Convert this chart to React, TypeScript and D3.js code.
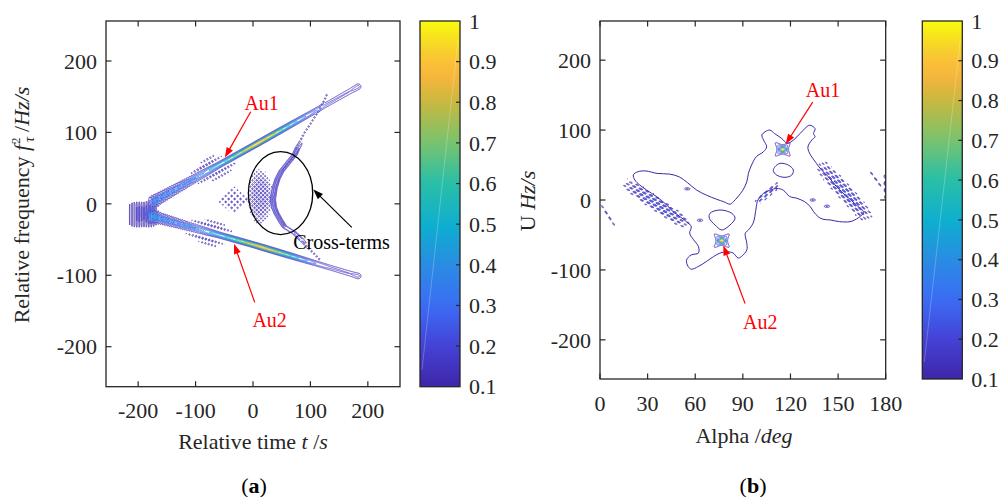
import React, { useMemo } from "react";
import * as d3 from "d3";

// ================= Panel (a): time–frequency distribution =================
const timeTicks = [-200, -100, 0, 100, 200];
const freqTicks = [-200, -100, 0, 100, 200];
const colorbarTicks = [0.1, 0.2, 0.3, 0.4, 0.5, 0.6, 0.7, 0.8, 0.9, 1];
const contourLevels = [0.1, 0.2, 0.3, 0.4, 0.5, 0.6, 0.7, 0.8, 0.9];

// ridge centre lines (t [s], f [Hz/s]) and amplitude along t
const au1Ridge = [[-172, 4], [0, 81], [183, 164]];
const au1Amplitude = [[-172, 0.45], [-130, 0.42], [-90, 0.45], [-50, 0.6], [-20, 0.8], [5, 1.0], [35, 0.85], [70, 0.55], [100, 0.35], [125, 0.22], [170, 0.2], [183, 0.24]];
const au2Ridge = [[-172, -18], [0, -57], [183, -101]];
const au2Amplitude = [[-172, 0.45], [-130, 0.42], [-90, 0.45], [-50, 0.6], [-15, 0.8], [15, 0.97], [45, 0.8], [80, 0.5], [110, 0.3], [135, 0.22], [170, 0.2], [183, 0.24]];
// origin block of the two chirps
const originT = [-218, -168];
const originF = [-34, 4];
// sidelobe dot rows: [ridge index, t start, t end, f offset, amplitude]
const sidelobeRows = [
  [0, -112, -50, 10, 0.26],
  [0, -95, -62, 17, 0.2],
  [0, -100, -22, -10, 0.26],
  [0, -80, -30, -17, 0.2],
  [1, -112, -28, 10, 0.26],
  [1, -90, -40, 16, 0.2],
  [1, -122, -45, -11, 0.26],
  [1, -100, -55, -17, 0.2],
];
// cross-term arc (t, f) and its amplitude
const crossArc = [[128, 152], [122, 141], [110, 125], [100, 112], [90, 100], [82, 88], [75, 78], [70, 69], [58, 57], [47, 46], [40, 35], [35, 22], [32, 6], [34, -5], [38, -13], [45, -23], [52, -32], [62, -37], [70, -41], [80, -49], [90, -57], [99, -64], [108, -71], [116, -78]];
const crossArcAmplitude = [0.2, 0.2, 0.2, 0.2, 0.2, 0.21, 0.23, 0.24, 0.24, 0.24, 0.24, 0.24, 0.24, 0.24, 0.24, 0.24, 0.24, 0.24, 0.24, 0.23, 0.21, 0.2, 0.2, 0.2];
const crossHatchCentre = [12, 10];
const crossHatchRadii = [22, 40];
const autoDotsCentre = [-34, 5];
const autoDotsRadii = [31, 21];

const labelsA = [
  { text: "Au1", at: [15, 131], from: [-4, 129], to: [-49, 65] },
  { text: "Au2", at: [29, -173], from: [3, -138], to: [-33, -56] },
];
const crossRingCentre = [48, 15];
const crossRingRadii = [56, 58];
const crossArrowFrom = [172, -33];
const crossArrowTo = [105, 20];
const crossLabelAt = [70, -63];

// ================= Panel (b): alpha–U map =================
const alphaTicks = [0, 30, 60, 90, 120, 150, 180];
const uTicks = [-200, -100, 0, 100, 200];
const outlineB = [
  [21, 36], [24, 40.5], [29, 41.5], [36, 38], [44, 37], [50, 33], [55, 25], [61, 14], [67, 7], [73.5, 1], [78, -2.5], [82, -6], [84, -2.5], [87, 5], [90, 14], [92.5, 26], [93.5, 38], [95.5, 50], [98.5, 62], [103, 69], [105, 76], [103, 86], [102, 93], [104, 97.5], [107, 100], [110, 95], [114.5, 88], [118, 81], [122, 86], [126, 95], [129, 102], [132, 107], [135.5, 102], [134.5, 95], [135.5, 90.5], [133.5, 86], [131, 76], [132, 67], [136.5, 52], [139.5, 43], [144, 33], [149, 19], [155.5, 5], [161.5, -7], [166, -17], [165, -21.5], [160.5, -28.5], [157.5, -31], [151, -31], [145, -28.5], [140.5, -27.5], [137.5, -24], [134.5, -16.5], [132.5, -9.5], [129, -2.5], [124, 2.5], [119.5, 5], [115.5, 14], [111.5, 16.5], [107, 14], [103, 9.5], [99.5, 0], [98.5, -9.5], [97.5, -24], [96.5, -33], [93.5, -43], [91.5, -47.5], [92.5, -62], [92.5, -71.5], [89, -81], [87, -83], [84, -76], [80, -74], [75.5, -76], [71.5, -81], [67, -88], [62, -95], [57.5, -99], [55.5, -95], [54.5, -86], [57.5, -78.5], [62, -76], [62, -66.5], [59, -57], [56.5, -47.5], [57.5, -38], [54.5, -31], [50.5, -24], [46, -16.5], [42, -7], [35.5, 5], [29.5, 14], [25, 21.5], [22, 28.5],
];
const lowerHoleB = [[69.3, -19], [75.6, -14.3], [83, -19], [85.1, -26.1], [81.9, -35.7], [76.7, -42.9], [72.5, -35.7], [68.9, -26.1]];
const upperHoleB = [[110.3, 47.6], [113.4, 52.4], [118.6, 50], [121.8, 42.9], [120.8, 35.7], [116.6, 32.4], [111.3, 35.7], [109.2, 41.9]];
const peaksB = [[115.1, 72.4], [76.7, -58.1]];
// speckle bands: [alpha0, U0, alpha1, U1, half width px, dash angle deg, amplitude]
const speckleBandsB = [
  [15, 26, 56, -37, 6.5, 20, 0.42],
  [138, 52, 170, -28, 7.5, 35, 0.42],
  [99, -3, 112, 22, 3.5, -40, 0.38],
  [0.5, -6, 9.5, -38, 1.5, 57, 0.3],
  [169, 43, 178, 15, 1.5, 54, 0.3],
  [179.3, 38, 179.6, 2, 1.5, 89, 0.3],
];
const speckleBlobsB = [[55, 16], [63, -29], [134, 0], [143, -9]];
const labelsB = [
  { text: "Au1", at: [140.5, 148], from: [134, 140], to: [117, 80] },
  { text: "Au2", at: [101, -185], from: [91.4, -148], to: [77.7, -65] },
];

// ================= layout / styles =================
const DARK = "#262626";
const FONT = "'Liberation Serif', 'Times New Roman', serif";
const boxA = { l: 106, r: 400, t: 21, b: 386.7 };
const cbA = { l: 420, r: 460, t: 21, b: 386.7 };
const boxB = { l: 600, r: 885.7, t: 21, b: 379 };
const cbB = { l: 922.3, r: 962.3, t: 21, b: 379 };

const xA = d3.scaleLinear().domain([-256, 256]).range([boxA.l, boxA.r]);
const yA = d3.scaleLinear().domain([-256, 256]).range([boxA.b, boxA.t]);
const xB = d3.scaleLinear().domain([0, 180]).range([boxB.l, boxB.r]);
const yB = d3.scaleLinear().domain([-256, 256]).range([boxB.b, boxB.t]);
const cScaleA = d3.scaleLinear().domain([0.1, 1]).range([cbA.b, cbA.t]);
const cScaleB = d3.scaleLinear().domain([0.1, 1]).range([cbB.b, cbB.t]);

const PARULA: [number, string][] = [
  [0.0, "#3e26a8"], [0.11, "#4541d6"], [0.22, "#3b6cf4"], [0.33, "#2a8be3"], [0.44, "#0eaed0"],
  [0.56, "#2bbfa6"], [0.67, "#7bc36c"], [0.78, "#c9b83e"], [0.83, "#eeb53c"], [0.87, "#fcba3c"],
  [0.92, "#f6d02c"], [1.0, "#f9fb0e"],
];
const parula = d3.scaleLinear<string>().domain(PARULA.map((d) => d[0])).range(PARULA.map((d) => d[1])).interpolate(d3.interpolateRgb).clamp(true);
const levelColor = (v: number) => parula((v - 0.1) / 0.9);
const TAU = Math.PI * 2;

// ================= field helpers =================
function makeGrid(x0: number, y0: number, x1: number, y1: number, step: number) {
  const nx = Math.ceil((x1 - x0) / step), ny = Math.ceil((y1 - y0) / step);
  return { x0, y0, step, nx, ny, v: new Float64Array(nx * ny) };
}
function paintBox(g: any, bx0: number, by0: number, bx1: number, by1: number, fn: (px: number, py: number) => number) {
  const i0 = Math.max(0, Math.floor((Math.min(bx0, bx1) - g.x0) / g.step));
  const i1 = Math.min(g.nx - 1, Math.ceil((Math.max(bx0, bx1) - g.x0) / g.step));
  const j0 = Math.max(0, Math.floor((Math.min(by0, by1) - g.y0) / g.step));
  const j1 = Math.min(g.ny - 1, Math.ceil((Math.max(by0, by1) - g.y0) / g.step));
  for (let j = j0; j <= j1; j++) {
    const py = g.y0 + (j + 0.5) * g.step;
    for (let i = i0; i <= i1; i++) {
      const px = g.x0 + (i + 0.5) * g.step;
      g.v[j * g.nx + i] += fn(px, py);
    }
  }
}
function paintCurve(g: any, pts: number[][], margin: number, contrib: (d: number, cx: number, cy: number, s: number, px: number, py: number, L: number) => number) {
  const segs: any[] = [];
  let cum = 0;
  for (let k = 0; k < pts.length - 1; k++) {
    const ax = pts[k][0], ay = pts[k][1];
    const dx = pts[k + 1][0] - ax, dy = pts[k + 1][1] - ay;
    const len2 = dx * dx + dy * dy || 1e-9, len = Math.sqrt(len2);
    segs.push({ ax, ay, dx, dy, len2, len, s0: cum });
    cum += len;
  }
  const xs = pts.map((p) => p[0]), ys = pts.map((p) => p[1]);
  const m2 = margin * margin;
  paintBox(g, Math.min(...xs) - margin, Math.min(...ys) - margin, Math.max(...xs) + margin, Math.max(...ys) + margin, (px, py) => {
    let best = Infinity, bcx = 0, bcy = 0, bs = 0;
    for (const sg of segs) {
      let u = ((px - sg.ax) * sg.dx + (py - sg.ay) * sg.dy) / sg.len2;
      u = u < 0 ? 0 : u > 1 ? 1 : u;
      const cx = sg.ax + u * sg.dx, cy = sg.ay + u * sg.dy;
      const d2 = (px - cx) * (px - cx) + (py - cy) * (py - cy);
      if (d2 < best) { best = d2; bcx = cx; bcy = cy; bs = sg.s0 + u * sg.len; }
    }
    if (best > m2) return 0;
    return contrib(Math.sqrt(best), bcx, bcy, bs, px, py, cum);
  });
}
function contourPaths(g: any, levels: number[]) {
  const cs = d3.contours().size([g.nx, g.ny]).thresholds(levels)(g.v as any);
  const path = d3.geoPath(d3.geoIdentity().scale(g.step).translate([g.x0, g.y0]) as any);
  return cs.map((c: any) => ({ value: c.value, d: path(c) || "" }));
}

function computeA() {
  const g = makeGrid(boxA.l, boxA.t, boxA.r, boxA.b, 0.5);
  const sigmaAt = d3.scaleLinear().domain([-172, -120, -60, 0, 100, 183]).range([3.6, 2.8, 1.6, 1.4, 1.6, 2.1]).clamp(true);
  const stripeAt = d3.scaleLinear().domain([-172, -110, -75]).range([0.55, 0.45, 0]).clamp(true);
  const ridges: any[] = [[au1Ridge, au1Amplitude], [au2Ridge, au2Amplitude]];
  ridges.forEach(([ridge, ampl]) => {
    const amp = d3.scaleLinear().domain(ampl.map((d: number[]) => d[0])).range(ampl.map((d: number[]) => d[1])).clamp(true);
    const pts = ridge.map(([t, f]: number[]) => [xA(t), yA(f)]);
    paintCurve(g, pts, 11, (d, cx, cy, s, px) => {
      const t = xA.invert(cx);
      const sg = sigmaAt(t);
      const m = 1 - stripeAt(t) * (0.5 - 0.5 * Math.cos((TAU * px) / 2.2));
      return amp(t) * m * Math.exp((-d * d) / (2 * sg * sg));
    });
  });
  const ridgeLines = [au1Ridge, au2Ridge].map((r) => d3.scaleLinear().domain(r.map((d) => d[0])).range(r.map((d) => d[1])));
  sidelobeRows.forEach(([k, t0, t1, off, a]) => {
    const fOf = ridgeLines[k];
    const pts = [[xA(t0), yA(fOf(t0) + off)], [xA(t1), yA(fOf(t1) + off)]];
    paintCurve(g, pts, 3, (d, cx, cy, s, px, py, L) => {
      const taper = Math.pow(Math.sin(Math.PI * Math.min(1, Math.max(0, s / L))), 0.6);
      const dot = Math.pow(0.5 + 0.5 * Math.cos((TAU * s) / 3.4), 2);
      return a * taper * dot * Math.exp((-d * d) / (2 * 0.8 * 0.8));
    });
  });
  // cross-term arcs
  const arcPts = crossArc.map(([t, f]) => [xA(t), yA(f)]);
  const cum = [0];
  for (let k = 1; k < arcPts.length; k++) cum.push(cum[k - 1] + Math.hypot(arcPts[k][0] - arcPts[k - 1][0], arcPts[k][1] - arcPts[k - 1][1]));
  const arcAmp = d3.scaleLinear().domain(cum).range(crossArcAmplitude).clamp(true);
  [[0, 1], [3.2, 0.9]].forEach(([dx, gain]) => {
    const pts = arcPts.map(([x, y]) => [x + dx, y]);
    paintCurve(g, pts, 3, (d, cx, cy, s) => {
      const base = arcAmp(s);
      const dotted = Math.max(0, Math.min(1, (0.23 - base) / 0.03));
      const mod = gain < 1 ? 1 - dotted : 1 - dotted * (1 - Math.pow(0.5 + 0.5 * Math.cos((TAU * s) / 3.6), 2));
      return base * gain * mod * Math.exp((-d * d) / (2 * 0.7 * 0.7));
    });
  });
  // cross-term hatch
  {
    const [ct, cf] = crossHatchCentre, [rt, rf] = crossHatchRadii;
    paintBox(g, xA(ct - rt * 1.4), yA(cf + rf * 1.4), xA(ct + rt * 1.4), yA(cf - rf * 1.4), (px, py) => {
      const dt = (xA.invert(px) - ct) / rt, df = (yA.invert(py) - cf) / rf;
      const r2 = dt * dt + df * df;
      const mask = Math.exp(-r2 * r2);
      const u = (px + py) / Math.SQRT2, v = (px - py) / Math.SQRT2;
      const lat = (0.5 + 0.5 * Math.cos((TAU * u) / 3.0)) * (0.5 + 0.5 * Math.cos((TAU * v) / 3.0));
      return 0.26 * mask * lat;
    });
  }
  {
    const [ct, cf] = autoDotsCentre, [rt, rf] = autoDotsRadii;
    paintBox(g, xA(ct - rt * 1.3), yA(cf + rf * 1.3), xA(ct + rt * 1.3), yA(cf - rf * 1.3), (px, py) => {
      const r = Math.abs(xA.invert(px) - ct) / rt + Math.abs(yA.invert(py) - cf) / rf;
      const mask = Math.exp(-Math.pow(r, 6));
      const u = (px + py) / Math.SQRT2, v = (px - py) / Math.SQRT2;
      const lat = Math.pow((0.5 + 0.5 * Math.cos((TAU * u) / 4.2)) * (0.5 + 0.5 * Math.cos((TAU * v) / 4.2)), 2);
      return 0.24 * mask * lat;
    });
  }
  {
    const tc = (originT[0] + originT[1]) / 2, ht = (originT[1] - originT[0]) / 2;
    const fc = (originF[0] + originF[1]) / 2, hf = (originF[1] - originF[0]) / 2;
    paintBox(g, xA(originT[0]) - 6, yA(originF[1]) - 6, xA(originT[1]) + 6, yA(originF[0]) + 6, (px, py) => {
      const dt = (xA.invert(px) - tc) / ht, df = (yA.invert(py) - fc) / hf;
      const env = Math.exp(-(Math.pow(dt, 6) + Math.pow(df, 6)));
      const m = 0.5 + 0.5 * Math.cos((TAU * px) / 2.4);
      const core = Math.exp(-(Math.pow((xA.invert(px) - tc - 10) / 14, 2) + Math.pow((yA.invert(py) - fc - 2) / 9, 2)));
      return (0.2 + 0.12 * core) * env * Math.pow(m, 1.5);
    });
  }
  return contourPaths(g, contourLevels);
}

function computeB() {
  const g = makeGrid(boxB.l, boxB.t, boxB.r, boxB.b, 0.5);
  peaksB.forEach(([a, u]) => {
    const cx = xB(a), cy = yB(u);
    const th = (42 * Math.PI) / 180, c = Math.cos(th), s = Math.sin(th);
    paintBox(g, cx - 16, cy - 16, cx + 16, cy + 16, (px, py) => {
      const dx = px - cx, dy = py - cy;
      const core = Math.exp(-((dx * dx) / (2 * 2.6 * 2.6) + (dy * dy) / (2 * 1.7 * 1.7)));
      const r2 = dx * dx + dy * dy;
      const d1 = dx * s - dy * c, d2 = dx * s + dy * c;
      const arms = 0.2 * Math.exp(-r2 / (2 * 8 * 8)) * (Math.exp((-d1 * d1) / (2 * 1.5 * 1.5)) + Math.exp((-d2 * d2) / (2 * 1.5 * 1.5)));
      const halo = 0.24 * Math.exp(-((dx * dx) / (2 * 4.2 * 4.2) + (dy * dy) / (2 * 3.2 * 3.2)));
      return Math.max(core, arms + halo);
    });
  });
  speckleBandsB.forEach(([a0, u0, a1, u1, hw, ang, amp]) => {
    const x0 = xB(a0), y0 = yB(u0), x1 = xB(a1), y1 = yB(u1);
    const L = Math.hypot(x1 - x0, y1 - y0), ux = (x1 - x0) / L, uy = (y1 - y0) / L;
    const th = (ang * Math.PI) / 180, rc = Math.cos(th), rs = Math.sin(th);
    paintBox(g, Math.min(x0, x1) - hw * 2, Math.min(y0, y1) - hw * 2, Math.max(x0, x1) + hw * 2, Math.max(y0, y1) + hw * 2, (px, py) => {
      const qx = px - x0, qy = py - y0;
      const sAx = qx * ux + qy * uy, q = -qx * uy + qy * ux;
      if (sAx < -2 || sAx > L + 2) return 0;
      const env = Math.exp(-Math.pow(q / hw, 4)) * Math.pow(Math.sin(Math.PI * Math.min(1, Math.max(0, (sAx + 2) / (L + 4)))), 0.5);
      const along = px * rc + py * rs, across = -px * rs + py * rc;
      const row = Math.round(across / 2.6);
      const rowMod = Math.pow(0.5 + 0.5 * Math.cos((TAU * across) / 2.6), 2);
      const dash = Math.pow(0.5 + 0.5 * Math.cos((TAU * (along + row * 2.3)) / 7), 1.2);
      return amp * env * rowMod * dash;
    });
  });
  speckleBlobsB.forEach(([a, u]) => {
    const cx = xB(a), cy = yB(u);
    paintBox(g, cx - 7, cy - 4, cx + 7, cy + 4, (px, py) => {
      const dx = (px - cx) / 2.2, dy = (py - cy) / 0.9;
      return 0.22 * Math.exp(-(dx * dx + dy * dy) / 2);
    });
  });
  return contourPaths(g, contourLevels);
}

function Arrow({ from, to, color }: { from: number[]; to: number[]; color: string }) {
  const [x1, y1] = from, [x2, y2] = to;
  const L = Math.hypot(x2 - x1, y2 - y1), ux = (x2 - x1) / L, uy = (y2 - y1) / L;
  const hl = 10, hw = 3.6;
  const bx = x2 - ux * hl, by = y2 - uy * hl;
  const head = `M${x2},${y2}L${bx - uy * hw},${by + ux * hw}L${bx + uy * hw},${by - ux * hw}Z`;
  return (
    <g>
      <line x1={x1} y1={y1} x2={bx + ux * 1} y2={by + uy * 1} stroke={color} strokeWidth={1.2} />
      <path d={head} fill={color} />
    </g>
  );
}

function Frame({ box, xs, ys, xTicks, yTicks, xLabelY, yLabelX, tickLen }: any) {
  return (
    <g>
      <rect x={box.l} y={box.t} width={box.r - box.l} height={box.b - box.t} fill="none" stroke={DARK} strokeWidth={1.3} />
      {xTicks.map((v: number) => (
        <g key={"x" + v}>
          <line x1={xs(v)} x2={xs(v)} y1={box.b} y2={box.b - tickLen} stroke={DARK} strokeWidth={1.2} />
          <line x1={xs(v)} x2={xs(v)} y1={box.t} y2={box.t + tickLen} stroke={DARK} strokeWidth={1.2} />
          <text x={xs(v)} y={xLabelY} textAnchor="middle" fontSize={22} fill={DARK}>{v}</text>
        </g>
      ))}
      {yTicks.map((v: number) => (
        <g key={"y" + v}>
          <line x1={box.l} x2={box.l + tickLen} y1={ys(v)} y2={ys(v)} stroke={DARK} strokeWidth={1.2} />
          <line x1={box.r} x2={box.r - tickLen} y1={ys(v)} y2={ys(v)} stroke={DARK} strokeWidth={1.2} />
          <text x={yLabelX} y={ys(v)} dy="0.35em" textAnchor="end" fontSize={22} fill={DARK}>{v}</text>
        </g>
      ))}
    </g>
  );
}

function Colorbar({ cb, scale, gradId }: any) {
  return (
    <g>
      <rect x={cb.l} y={cb.t} width={cb.r - cb.l} height={cb.b - cb.t} fill={`url(#${gradId})`} />
      <line x1={cb.l + 2} y1={cb.b - 17} x2={cb.r - 2} y2={cb.t + 19} stroke="#fff" strokeOpacity={0.3} strokeWidth={0.8} />
      <rect x={cb.l} y={cb.t} width={cb.r - cb.l} height={cb.b - cb.t} fill="none" stroke={DARK} strokeWidth={1.3} />
      {colorbarTicks.map((v) => (
        <g key={v}>
          {v > 0.1 && v < 1 && <line x1={cb.r} x2={cb.r - 4} y1={scale(v)} y2={scale(v)} stroke={DARK} strokeWidth={1.2} />}
          <text x={cb.r + 9} y={scale(v)} dy="0.35em" fontSize={22} fill={DARK}>{v}</text>
        </g>
      ))}
    </g>
  );
}

export default function App() {
  const contA = useMemo(() => computeA(), []);
  const contB = useMemo(() => computeB(), []);
  const gradStops = d3.range(0, 1.0001, 0.04);
  const ptLine = d3.line<number[]>().x((d) => xB(d[0])).y((d) => yB(d[1])).curve(d3.curveCatmullRomClosed.alpha(0.5));
  return (
    <svg width={999} height={497} style={{ position: "absolute", left: 0, top: 0, background: "#fff" }} fontFamily={FONT}>
      <defs>
        <linearGradient id="parulaGrad" x1="0" y1="1" x2="0" y2="0">
          {gradStops.map((p) => <stop key={p} offset={p} stopColor={parula(p)} />)}
        </linearGradient>
        <clipPath id="clipA"><rect x={boxA.l} y={boxA.t} width={boxA.r - boxA.l} height={boxA.b - boxA.t} /></clipPath>
        <clipPath id="clipB"><rect x={boxB.l} y={boxB.t} width={boxB.r - boxB.l} height={boxB.b - boxB.t} /></clipPath>
      </defs>
      <rect width={999} height={497} fill="#fff" />

      {/* ---------- panel (a) ---------- */}
      <g clipPath="url(#clipA)" fill="none">
        {contA.map((c: any) => <path key={c.value} d={c.d} stroke={levelColor(c.value)} strokeWidth={0.8} />)}
      </g>
      <Frame box={boxA} xs={xA} ys={yA} xTicks={timeTicks} yTicks={freqTicks} xLabelY={418} yLabelX={97} tickLen={5.5} />
      <text x={253} y={449} textAnchor="middle" fontSize={22} fill={DARK}>
        Relative time <tspan fontStyle="italic">t</tspan> /<tspan fontStyle="italic">s</tspan>
      </text>
      <text transform="translate(29,205) rotate(-90)" textAnchor="middle" fontSize={22} fill={DARK}>
        Relative frequency <tspan fontStyle="italic">f</tspan>
        <tspan fontStyle="italic" fontSize={14} dx={3} dy={5}>τ</tspan>
        <tspan fontSize={13} dx={-7} dy={-14}>2</tspan>
        <tspan dy={9}> /</tspan><tspan fontStyle="italic">Hz/s</tspan>
      </text>
      {labelsA.map((l) => (
        <g key={l.text}>
          <Arrow from={[xA(l.from[0]), yA(l.from[1])]} to={[xA(l.to[0]), yA(l.to[1])]} color="#ff0000" />
          <text x={xA(l.at[0])} y={yA(l.at[1])} textAnchor="middle" fontSize={20} fill="#ff0000">{l.text}</text>
        </g>
      ))}
      <ellipse cx={xA(crossRingCentre[0])} cy={yA(crossRingCentre[1])}
        rx={xA(crossRingCentre[0] + crossRingRadii[0]) - xA(crossRingCentre[0])}
        ry={yA(crossRingCentre[1]) - yA(crossRingCentre[1] + crossRingRadii[1])}
        fill="none" stroke="#000" strokeWidth={1.3} />
      <Arrow from={[xA(crossArrowFrom[0]), yA(crossArrowFrom[1])]} to={[xA(crossArrowTo[0]), yA(crossArrowTo[1])]} color="#000" />
      <text x={xA(crossLabelAt[0])} y={yA(crossLabelAt[1])} fontSize={20} fill="#000">Cross-terms</text>
      <Colorbar cb={cbA} scale={cScaleA} gradId="parulaGrad" />
      <text x={254} y={492.5} textAnchor="middle" fontSize={22} fill="#000">(<tspan fontWeight="bold">a</tspan>)</text>

      {/* ---------- panel (b) ---------- */}
      <g clipPath="url(#clipB)" fill="none">
        <path d={ptLine(outlineB) || ""} stroke={levelColor(0.1)} strokeWidth={1} />
        <path d={ptLine(lowerHoleB) || ""} stroke={levelColor(0.1)} strokeWidth={1} />
        <path d={ptLine(upperHoleB) || ""} stroke={levelColor(0.1)} strokeWidth={1} />
        {contB.map((c: any) => <path key={c.value} d={c.d} stroke={levelColor(c.value)} strokeWidth={0.8} />)}
      </g>
      <Frame box={boxB} xs={xB} ys={yB} xTicks={alphaTicks} yTicks={uTicks} xLabelY={410.5} yLabelX={591} tickLen={5.5} />
      <text x={744} y={442.5} textAnchor="middle" fontSize={22} fill={DARK}>
        Alpha /<tspan fontStyle="italic">deg</tspan>
      </text>
      <text transform="translate(535,201) rotate(-90)" textAnchor="middle" fontSize={22} fill={DARK}>
        U <tspan fontStyle="italic">Hz/s</tspan>
      </text>
      {labelsB.map((l) => (
        <g key={l.text}>
          <Arrow from={[xB(l.from[0]), yB(l.from[1])]} to={[xB(l.to[0]), yB(l.to[1])]} color="#ff0000" />
          <text x={xB(l.at[0])} y={yB(l.at[1])} textAnchor="middle" fontSize={20} fill="#ff0000">{l.text}</text>
        </g>
      ))}
      <Colorbar cb={cbB} scale={cScaleB} gradId="parulaGrad" />
      <text x={753} y={493} textAnchor="middle" fontSize={22} fill="#000">(<tspan fontWeight="bold">b</tspan>)</text>
    </svg>
  );
}
